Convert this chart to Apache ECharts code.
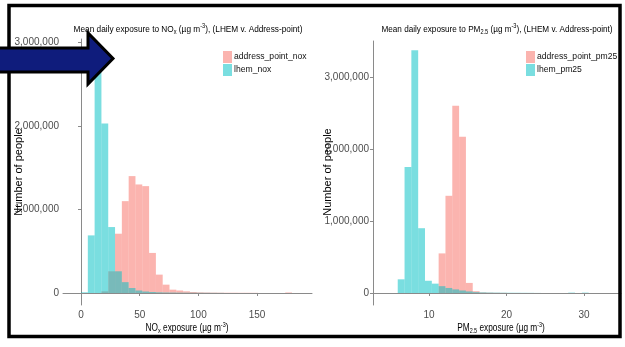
<!DOCTYPE html>
<html><head><meta charset="utf-8">
<style>html,body{margin:0;padding:0;background:#fff}#c{width:625px;height:347px}</style>
<script src="https://cdn.jsdelivr.net/npm/echarts@6/dist/echarts.min.js"></script>
</head><body><div id="c"></div>
<script>
// ---- NOx panel (left) ----
const noxBinStarts = [0, 5.8, 11.6, 17.4, 23.2, 29.0, 34.8, 40.6, 46.4, 52.2, 58.0, 63.8, 69.6, 75.4, 81.2, 87.0, 92.8, 98.6, 104.4, 110.2, 116.0, 121.8, 127.6, 133.4, 139.2, 145.0, 150.8, 156.6, 162.4, 168.2, 174.0];
const noxBinWidth = 5.8;
const addressPointNox = [0, 0, 0, 20000, 260000, 710000, 1100000, 1400000, 1300000, 1280000, 480000, 220000, 100000, 40000, 30000, 20000, 12000, 8000, 6000, 5000, 4000, 3000, 3000, 2500, 2500, 2000, 0, 0, 0, 0, 6000];
const lhemNox = [8000, 690000, 2850000, 2030000, 790000, 260000, 130000, 60000, 30000, 18000, 12000, 8000, 6000, 5000, 4000, 3500, 3000, 2500, 2000, 1500, 1200, 0, 0, 0, 0, 0, 0, 0, 0, 0, 0];
const noxTicks = [0, 50, 100, 150];
// ---- PM2.5 panel (right) ----
const pmBinStarts = [5.96, 6.84, 7.72, 8.60, 9.48, 10.36, 11.24, 12.12, 13.00, 13.88, 14.76, 15.64, 16.52, 17.40, 18.28, 19.16, 20.04, 20.92, 21.80, 22.68, 23.56, 24.44, 25.32, 26.20, 27.08, 27.96, 28.84, 29.72, 30.60, 31.48];
const pmBinWidth = 0.88;
const addressPointPm25 = [0, 0, 0, 0, 0, 0, 550000, 1350000, 2600000, 2170000, 140000, 25000, 8000, 5000, 3000, 2000, 0, 0, 0, 0, 0, 0, 0, 0, 0, 0, 0, 0, 0, 0];
const lhemPm25 = [190000, 1750000, 3370000, 900000, 170000, 130000, 95000, 70000, 50000, 35000, 22000, 12000, 8000, 6000, 5000, 4000, 3500, 3000, 2500, 2000, 1000, 0, 0, 0, 0, 5000, 0, 5000, 0, 0];
const pmTicks = [10, 20, 30];
const countTicks = [0, 1000000, 2000000, 3000000];

const FONT = '"Liberation Sans", Arial, sans-serif';
const PINK = 'rgba(248,118,109,0.55)';
const CYAN = 'rgba(0,191,196,0.52)';

function bins(starts, width, vals) {
  return starts.map((s, i) => [s, s + width, vals[i]]);
}
function renderBin(params, api) {
  const p0 = api.coord([api.value(0), 0]);
  const p1 = api.coord([api.value(1), api.value(2)]);
  return {type: 'rect', shape: {x: p0[0], y: p1[1], width: p1[0] - p0[0], height: p0[1] - p1[1]},
          style: {fill: api.visual('color')}};
}
function series(name, idx, data, color) {
  return {type: 'custom', name: name, xAxisIndex: idx, yAxisIndex: idx, renderItem: renderBin,
          itemStyle: {color: color}, encode: {x: [0, 1], y: 2}, data: data, silent: true};
}
const axisCommon = {
  axisLine: {lineStyle: {color: '#8a8a8a', width: 1}},
  splitLine: {show: false}
};
function xAx(idx, min, max, ticks) {
  return Object.assign({}, axisCommon, {type: 'value', gridIndex: idx, min: min, max: max,
    axisTick: {length: 3, lineStyle: {color: '#8a8a8a'}, customValues: ticks},
    axisLabel: {customValues: ticks, color: '#4d4d4d', fontSize: 10, fontFamily: FONT, margin: 5}});
}
function yAx(idx, min, max) {
  return Object.assign({}, axisCommon, {type: 'value', gridIndex: idx, min: min, max: max,
    axisTick: {length: 3, lineStyle: {color: '#8a8a8a'}, customValues: countTicks},
    axisLabel: {customValues: countTicks, color: '#4d4d4d', fontSize: 10, fontFamily: FONT, margin: 4,
      formatter: v => Math.round(v).toLocaleString('en-US')}});
}
const richSS = {
  sub: {fontSize: 6.5, verticalAlign: 'bottom', lineHeight: 13, fontFamily: FONT, fill: '#000'},
  sup: {fontSize: 6.5, verticalAlign: 'top', lineHeight: 13, fontFamily: FONT, fill: '#000'}
};
function txt(x, y, text, size, opts) {
  return Object.assign({type: 'text', x: x, y: y, z: 50,
    style: {text: text, fontSize: size, fontFamily: FONT, fill: '#000', align: 'center', verticalAlign: 'middle',
      lineHeight: 13, rich: richSS}}, opts || {});
}
function legendOpt(names, left) {
  return {data: names, orient: 'vertical', left: left, top: 51, icon: 'rect',
    itemWidth: 9, itemHeight: 12, itemGap: 1, padding: 0, selectedMode: false,
    textStyle: {fontSize: 8.6, fontFamily: FONT, color: '#111', padding: [0, 0, 0, -3]}};
}

const chart = echarts.init(document.getElementById('c'), null, {renderer: 'canvas'});
chart.setOption({
  animation: false,
  backgroundColor: '#fff',
  grid: [
    {left: 63, top: 39, width: 249, height: 266},
    {left: 373, top: 41, width: 248, height: 264}
  ],
  xAxis: [xAx(0, -15.34, 196.8, noxTicks), xAx(1, 2.77, 34.77, pmTicks)],
  yAxis: [yAx(0, -143700, 3042000), yAx(1, -166700, 3500000)],
  legend: [
    legendOpt(['address_point_nox', 'lhem_nox'], 223),
    legendOpt(['address_point_pm25', 'lhem_pm25'], 526)
  ],
  series: [
    series('address_point_nox', 0, bins(noxBinStarts, noxBinWidth, addressPointNox), PINK),
    series('lhem_nox', 0, bins(noxBinStarts, noxBinWidth, lhemNox), CYAN),
    series('address_point_pm25', 1, bins(pmBinStarts, pmBinWidth, addressPointPm25), PINK),
    series('lhem_pm25', 1, bins(pmBinStarts, pmBinWidth, lhemPm25), CYAN)
  ],
  graphic: [
    txt(188, 29, 'Mean daily exposure to NO{sub|x} (µg m{sup|-3}), (LHEM v. Address-point)', 9.5, {scaleX: 0.87}),
    txt(497, 29, 'Mean daily exposure to PM{sub|2.5} (µg m{sup|-3}), (LHEM v. Address-point)', 9.5, {scaleX: 0.86}),
    txt(187, 328, 'NO{sub|x} exposure (µg m{sup|-3})', 10, {scaleX: 0.83}),
    txt(501, 328, 'PM{sub|2.5} exposure (µg m{sup|-3})', 10, {scaleX: 0.83}),
    txt(19, 172, 'Number of people', 11, {rotation: Math.PI / 2}),
    txt(328, 172, 'Number of people', 11, {rotation: Math.PI / 2}),
    {type: 'rect', z: 100, shape: {x: 9, y: 5.5, width: 611, height: 331},
     style: {fill: 'none', stroke: '#000', lineWidth: 3.5}},
    {type: 'polygon', z: 101,
     shape: {points: [[-6, 48], [88, 48], [88, 33], [113, 58.5], [88, 84], [88, 72], [-6, 72]]},
     style: {fill: '#0f1c7c', stroke: '#000', lineWidth: 3, lineJoin: 'miter'}}
  ]
});
</script></body></html>
